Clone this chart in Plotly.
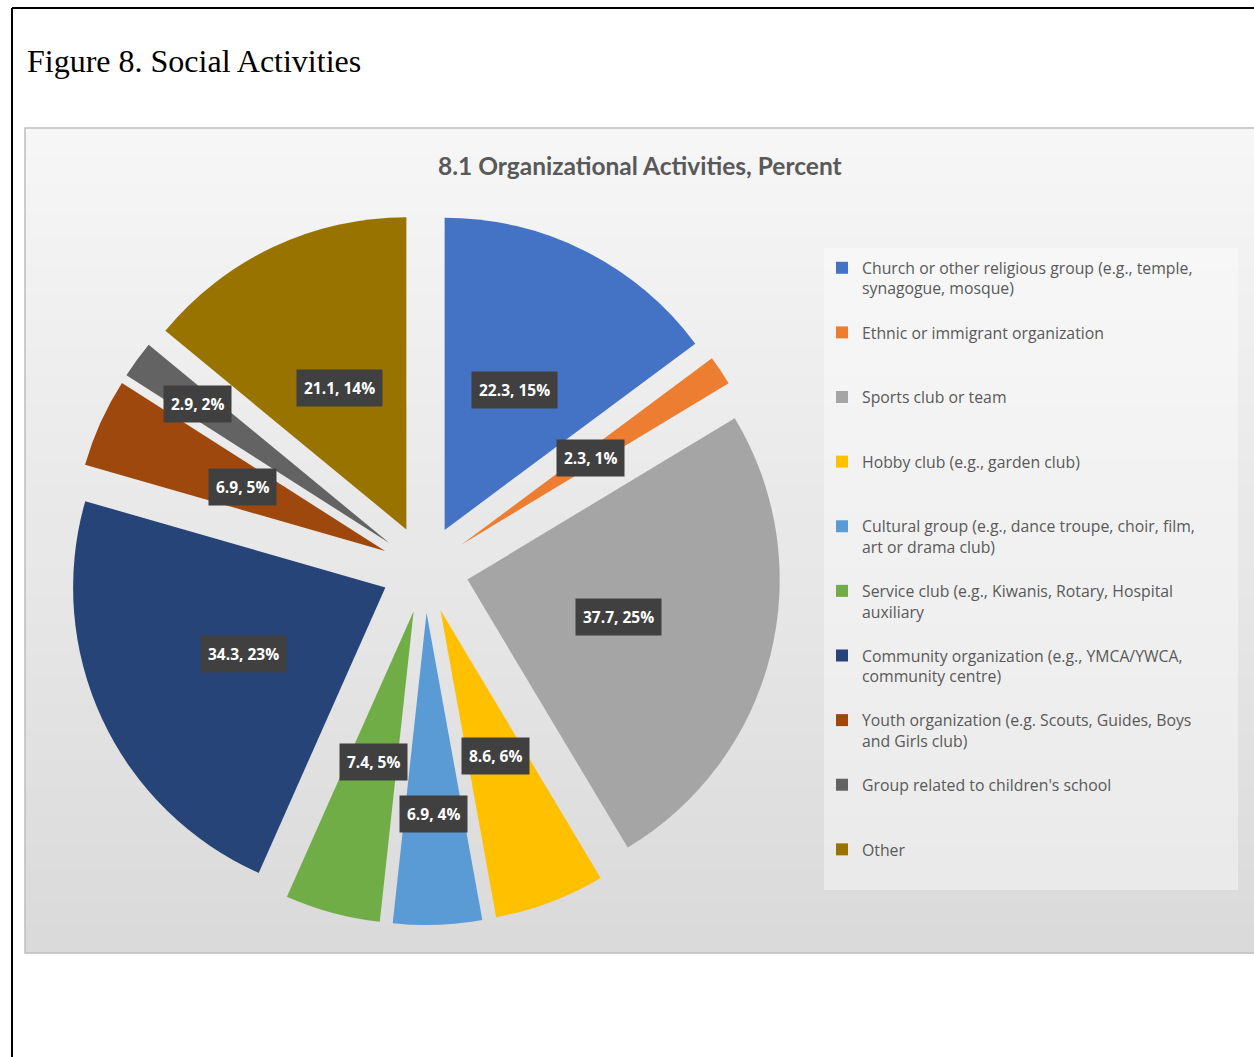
import math
import plotly.graph_objects as go

# ---------------- data ----------------
categories = [
    "Church or other religious group (e.g., temple,<br>synagogue, mosque)",
    "Ethnic or immigrant organization",
    "Sports club or team",
    "Hobby club (e.g., garden club)",
    "Cultural group (e.g., dance troupe, choir, film,<br>art or drama club)",
    "Service club (e.g., Kiwanis, Rotary, Hospital<br>auxiliary",
    "Community organization (e.g., YMCA/YWCA,<br>community centre)",
    "Youth organization (e.g. Scouts, Guides, Boys<br>and Girls club)",
    "Group related to children's school",
    "Other",
]
values = [22.3, 2.3, 37.7, 8.6, 6.9, 7.4, 34.3, 6.9, 2.9, 21.1]
pct_labels = ["15%", "1%", "25%", "6%", "4%", "5%", "23%", "5%", "2%", "14%"]

# ---------------- style ----------------
colors = ["#4472C4", "#ED7D31", "#A5A5A5", "#FFC000", "#5B9BD5",
          "#70AD47", "#264478", "#9E480E", "#636363", "#997300"]
W, H = 1254, 1057
PULL = 0.14
# pie placement in pixels (centre and box size)
CX, CY, BOX = 425, 569, 712
R = BOX / (2 + 2 * PULL)
LABEL_R_DEFAULT = 0.64          # label distance from centre (fraction of radius)
LABEL_R_OVERRIDE = {4: 0.785, 8: 0.9}


def px_x(p):
    return p / W


def px_y(p):
    return 1 - p / H


# pad legend entries to three lines so they are evenly spaced
legend_labels = []
for c in categories:
    n = c.count("<br>") + 1
    legend_labels.append(c + "<br> " * (3 - n))

fig = go.Figure()
fig.add_trace(go.Pie(
    labels=legend_labels,
    values=values,
    sort=False,
    direction="clockwise",
    rotation=0,
    pull=PULL,
    marker=dict(colors=colors, line=dict(width=0)),
    textinfo="none",
    hoverinfo="value+percent",
    domain=dict(x=[px_x(CX - BOX / 2), px_x(CX + BOX / 2)],
                y=[px_y(CY + BOX / 2), px_y(CY - BOX / 2)]),
))

# ---------------- data labels (boxed) ----------------
total = sum(values)
cum = 0.0
annotations = []
for i, v in enumerate(values):
    mid = (cum + v / 2) / total * 2 * math.pi
    cum += v
    f = LABEL_R_OVERRIDE.get(i, LABEL_R_DEFAULT)
    lx = CX + f * R * math.sin(mid)
    ly = CY - f * R * math.cos(mid)
    annotations.append(dict(
        x=px_x(lx), y=px_y(ly), xref="paper", yref="paper",
        text=f"<b>{v:g}, {pct_labels[i]}</b>", showarrow=False,
        font=dict(family="Open Sans", size=15.5, color="white"),
        bgcolor="#404040", borderpad=7,
        xanchor="center", yanchor="middle",
    ))

annotations.append(dict(
    x=px_x(640), y=px_y(166), xref="paper", yref="paper",
    text="<b>8.1 Organizational Activities, Percent</b>", showarrow=False,
    font=dict(family="Lato", size=24.5, color="#595959"),
    xanchor="center", yanchor="middle",
))
annotations.append(dict(
    x=px_x(25), y=px_y(61), xref="paper", yref="paper",
    text="Figure 8. Social Activities", showarrow=False,
    font=dict(family="Liberation Serif", size=32, color="black"),
    xanchor="left", yanchor="middle",
))

# ---------------- background shapes ----------------
shapes = []
top, bottom, left, right = 128, 953, 25, 1258
nb = 30
c_top, c_bot = 246, 218
for k in range(nb):
    y0 = top + (bottom - top) * k / nb
    y1 = min(bottom, top + (bottom - top) * (k + 1) / nb + 2)
    t = (k + 0.5) / nb
    g = round(c_top + (c_bot - c_top) * t)
    shapes.append(dict(type="rect", xref="paper", yref="paper",
                       x0=px_x(left), x1=px_x(right), y0=px_y(y1), y1=px_y(y0),
                       fillcolor=f"rgb({g},{g},{g})", line=dict(width=0),
                       layer="below"))
shapes.append(dict(type="rect", xref="paper", yref="paper",
                   x0=px_x(left), x1=px_x(right), y0=px_y(bottom), y1=px_y(top),
                   fillcolor="rgba(0,0,0,0)", line=dict(color="#bdbdbd", width=1.5),
                   layer="below"))
# legend panel
shapes.append(dict(type="rect", xref="paper", yref="paper",
                   x0=px_x(824), x1=px_x(1238), y0=px_y(890), y1=px_y(248),
                   fillcolor="rgba(255,255,255,0.4)", line=dict(width=0),
                   layer="below"))
# page frame
shapes.append(dict(type="line", xref="paper", yref="paper",
                   x0=px_x(12), x1=px_x(1260), y0=px_y(8), y1=px_y(8),
                   line=dict(color="black", width=2)))
shapes.append(dict(type="line", xref="paper", yref="paper",
                   x0=px_x(12), x1=px_x(12), y0=px_y(8), y1=px_y(1060),
                   line=dict(color="black", width=2)))

fig.update_layout(
    width=W, height=H,
    margin=dict(l=0, r=0, t=0, b=0),
    paper_bgcolor="white",
    plot_bgcolor="white",
    showlegend=True,
    legend=dict(
        x=px_x(822), y=px_y(251), xanchor="left", yanchor="top",
        bgcolor="rgba(0,0,0,0)",
        font=dict(family="Open Sans", size=15.8, color="#595959"),
        valign="top", traceorder="normal",
    ),
    annotations=annotations,
    shapes=shapes,
)

fig.write_html("out.html")
